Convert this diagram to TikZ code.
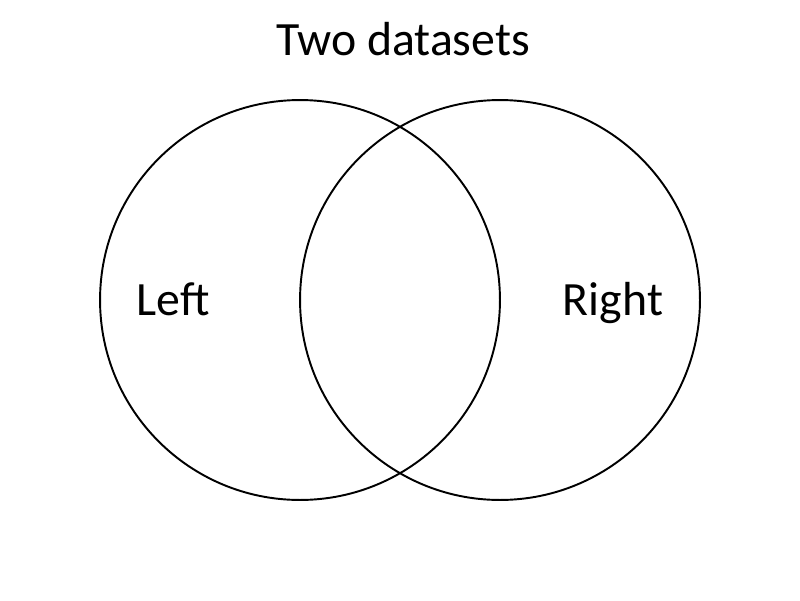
\documentclass[tikz,border=0pt]{standalone}
\usepackage{fontspec}
\setmainfont{Carlito}
\usepackage{tikz}

\begin{document}
\begin{tikzpicture}[x=0.02cm,y=0.02cm,
  setcircle/.style={circle,draw=black,line width=1.1pt,minimum size=8cm,inner sep=0pt},
  setlabel/.style={anchor=base,font=\fontsize{27.2}{32}\selectfont}]
\useasboundingbox (0,0) rectangle (800,600);
\node at (300,300) [setcircle] (LeftSet) {};
\node at (500,300) [setcircle] (RightSet) {};
\node at (403,545) [setlabel] (Title) {Two datasets};
\node at (173,285) [setlabel] (LeftLabel) {Left};
\node at (613,285) [setlabel] (RightLabel) {Right};
\end{tikzpicture}
\end{document}
